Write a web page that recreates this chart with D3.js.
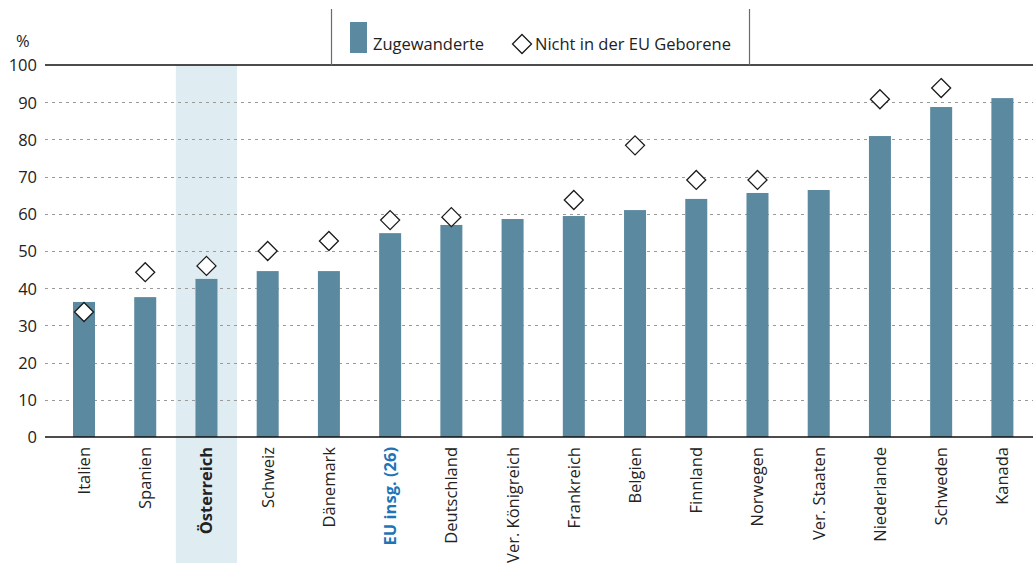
<!DOCTYPE html>
<html>
<head>
<meta charset="utf-8">
<script src="https://cdn.jsdelivr.net/npm/d3@7"></script>
<style>
  html, body { margin: 0; padding: 0; background: #fff; }
  svg { display: block; }
  svg text { font-family: "Open Sans", "Noto Sans", sans-serif; }
</style>
</head>
<body>
<svg id="chart" width="1033" height="563"></svg>
<script>
// Countries, in display order
const countries = ["Italien", "Spanien", "Österreich", "Schweiz", "Dänemark", "EU insg. (26)",
  "Deutschland", "Ver. Königreich", "Frankreich", "Belgien", "Finnland", "Norwegen",
  "Ver. Staaten", "Niederlande", "Schweden", "Kanada"];
// Zugewanderte (bars), %
const immigrants = [36.3, 37.6, 42.5, 44.6, 44.6, 54.8, 57.0, 58.6, 59.4, 61.0, 64.0, 65.6, 66.4, 80.9, 88.7, 91.1];
// Nicht in der EU Geborene (diamonds), % — null where not available
const nonEuBorn = [33.6, 44.3, 46.0, 50.0, 52.7, 58.3, 59.1, null, 63.7, 78.4, 69.1, 69.1, null, 90.8, 93.8, null];
const yTicks = [0, 10, 20, 30, 40, 50, 60, 70, 80, 90, 100];
const highlight = "Österreich";
const euTotal = "EU insg. (26)";

const svg = d3.select("#chart");
const W = 1033, H = 563;
const plotTop = 65, plotBottom = 437, axisLeft = 45;
const fs = 16.5;
const textColor = "#222";

const x = d3.scaleBand().domain(countries).range([53.4, 1033]).paddingInner(0).paddingOuter(0);
const y = d3.scaleLinear().domain([0, 100]).range([plotBottom, plotTop]);
const barW = 22;

const barColor = "#5b899f";

// Highlight band behind the Austrian bar
svg.append("rect")
  .attr("x", x(highlight)).attr("y", plotTop)
  .attr("width", x.bandwidth()).attr("height", H - plotTop)
  .attr("fill", "#dfedf2");

// Dotted gridlines
const grid = svg.append("g");
grid.selectAll("line").data(yTicks.filter(d => d > 0 && d < 100)).join("line")
  .attr("x1", axisLeft).attr("x2", W)
  .attr("y1", d => Math.round(y(d)) + 0.5).attr("y2", d => Math.round(y(d)) + 0.5)
  .attr("stroke", "#9a9a9a").attr("stroke-width", 1.2)
  .attr("stroke-dasharray", "3,4");

// Bars
svg.append("g").selectAll("rect").data(countries).join("rect")
  .attr("x", (d) => x(d) + x.bandwidth() / 2 - barW / 2)
  .attr("y", (d, i) => y(immigrants[i]))
  .attr("width", barW)
  .attr("height", (d, i) => y(0) - y(immigrants[i]))
  .attr("fill", barColor);

// Diamonds
const dSize = 9.5;
const diamond = (cx, cy, s) => `M${cx},${cy - s}L${cx + s},${cy}L${cx},${cy + s}L${cx - s},${cy}Z`;
svg.append("g").selectAll("path")
  .data(countries.map((c, i) => ({ c, v: nonEuBorn[i] })).filter(d => d.v != null))
  .join("path")
  .attr("d", d => diamond(x(d.c) + x.bandwidth() / 2, y(d.v), dSize))
  .attr("fill", "#fff").attr("stroke", "#1a1a1a").attr("stroke-width", 1.3);

// Top and baseline rules
svg.append("line").attr("x1", axisLeft).attr("x2", W).attr("y1", y(100)).attr("y2", y(100))
  .attr("stroke", "#111").attr("stroke-width", 1.6);
svg.append("line").attr("x1", axisLeft).attr("x2", W).attr("y1", y(0)).attr("y2", y(0))
  .attr("stroke", "#111").attr("stroke-width", 1.6);

// Y axis labels
const yAxis = d3.axisLeft(y).tickValues(yTicks).tickSize(0).tickPadding(0);
const yg = svg.append("g").attr("transform", "translate(37,0)").call(yAxis);
yg.select(".domain").remove();
yg.attr("font-family", null).attr("font-size", null);
yg.selectAll("text").attr("font-size", fs).attr("fill", textColor).attr("dy", "0.36em");
svg.append("text").attr("x", 16).attr("y", 47).attr("font-size", fs).attr("fill", textColor).text("%");

// X axis labels, rotated
const xAxis = d3.axisBottom(x).tickSize(0).tickPadding(0);
const xg = svg.append("g").attr("transform", `translate(0,${plotBottom})`).call(xAxis);
xg.select(".domain").remove();
xg.attr("font-family", null).attr("font-size", null);
xg.selectAll("text")
  .attr("transform", "rotate(-90)")
  .attr("x", -10).attr("y", 0).attr("dy", "0.36em")
  .attr("text-anchor", "end")
  .attr("font-size", fs)
  .attr("fill", d => d === euTotal ? "#1f74b6" : textColor)
  .attr("font-weight", d => (d === highlight || d === euTotal) ? "bold" : "normal");

// Legend
const lg = svg.append("g");
[331, 749].forEach(lx => {
  lg.append("line").attr("x1", lx + 0.5).attr("x2", lx + 0.5).attr("y1", 9).attr("y2", plotTop)
    .attr("stroke", "#6b6b6b").attr("stroke-width", 1.2);
});
lg.append("rect").attr("x", 350).attr("y", 22).attr("width", 17).attr("height", 31).attr("fill", barColor);
lg.append("text").attr("x", 373).attr("y", 50).attr("font-size", fs).attr("fill", textColor).text("Zugewanderte");
lg.append("path").attr("d", diamond(522, 44, 9.5)).attr("fill", "#fff").attr("stroke", "#1a1a1a").attr("stroke-width", 1.3);
lg.append("text").attr("x", 535).attr("y", 50).attr("font-size", fs).attr("fill", textColor).text("Nicht in der EU Geborene");
</script>
</body>
</html>
